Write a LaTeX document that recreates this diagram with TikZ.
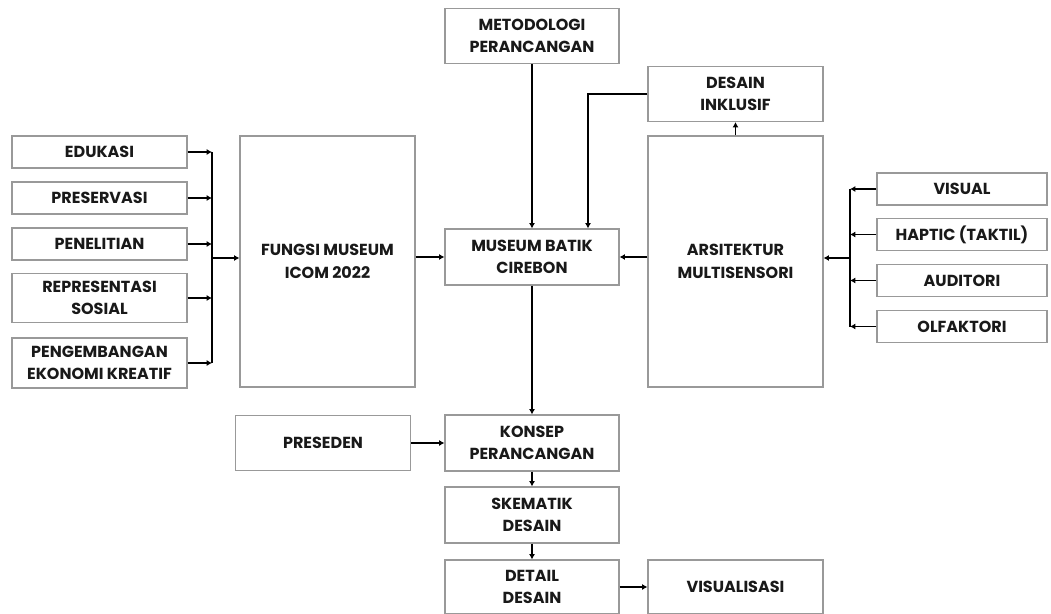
\documentclass[tikz,border=0pt]{standalone}
\usepackage{fontspec}
\setmainfont{Poppins}
\usetikzlibrary{arrows.meta}

\begin{document}
\begin{tikzpicture}[x=0.75pt,y=-0.75pt,-{Latex[length=4pt,width=4.5pt]},line width=1.1pt]
    \tikzstyle{every node}=[draw=black!40,line width=0.8pt,align=center,inner sep=0pt,
      font=\fontsize{12}{17}\selectfont\bfseries,text=black!90];
    \tikzset{ukuran/.style 2 args={minimum width=#1*0.75pt,minimum height=#2*0.75pt}}
    \useasboundingbox (0,0) rectangle (1051,614);

    % kiri
    \node at (99.5,152) (edukasi) [ukuran={175}{32}] {EDUKASI};
    \node at (99.5,198) (preservasi) [ukuran={175}{32}] {PRESERVASI};
    \node at (99.5,244) (penelitian) [ukuran={175}{32}] {PENELITIAN};
    \node at (99.5,298) (representasi) [ukuran={175}{49}] {REPRESENTASI\\SOSIAL};
    \node at (99.5,363) (pengembangan) [ukuran={175}{50}] {PENGEMBANGAN\\EKONOMI KREATIF};
    \node at (327.5,261.5) (fungsi) [ukuran={175}{251}] {FUNGSI MUSEUM\\ICOM 2022};

    % tengah
    \node at (532,36) (metodologi) [ukuran={174}{55}] {METODOLOGI\\PERANCANGAN};
    \node at (532,257) (museum) [ukuran={174}{56}] {MUSEUM BATIK\\CIREBON};
    \node at (323,443) (preseden) [ukuran={175}{55}] {PRESEDEN};
    \node at (532,443) (konsep) [ukuran={174}{56}] {KONSEP\\PERANCANGAN};
    \node at (532,515) (skematik) [ukuran={174}{56}] {SKEMATIK\\DESAIN};
    \node at (532,587) (detail) [ukuran={174}{54}] {DETAIL\\DESAIN};
    \node at (735.5,587) (visualisasi) [ukuran={175}{54}] {VISUALISASI};

    % kanan
    \node at (735.5,94) (desain) [ukuran={175}{55}] {DESAIN\\INKLUSIF};
    \node at (735.5,261.5) (arsitektur) [ukuran={175}{251}] {ARSITEKTUR\\MULTISENSORI};
    \node at (962,189) (visual) [ukuran={170}{32}] {VISUAL};
    \node at (962,234.5) (haptic) [ukuran={170}{32}] {HAPTIC (TAKTIL)};
    \node at (962,280.5) (auditori) [ukuran={170}{32}] {AUDITORI};
    \node at (962,326.5) (olfaktori) [ukuran={170}{32}] {OLFAKTORI};

    \coordinate (busL) at (212,258);
    \coordinate (busR) at (850,258);

    \foreach \n in {edukasi,preservasi,penelitian,representasi,pengembangan}
      \draw (\n.east) -- (\n -| busL);
    \draw[-] (edukasi -| busL) -- (pengembangan -| busL);
    \draw (busL) -- (busL -| fungsi.west);

    \foreach \n in {visual,haptic,auditori,olfaktori}
      \draw (\n.west) -- (\n -| busR);
    \draw[-] (visual -| busR) -- (olfaktori -| busR);
    \draw (busR) -- (busR -| arsitektur.east);

    \draw (museum -| fungsi.east) to (museum.west);
    \draw (museum -| arsitektur.west) to (museum.east);
    \draw (metodologi) to (museum);
    \draw (arsitektur) to (desain);
    \draw (desain.west) -| ([xshift=42pt]museum.north);
    \draw (museum) to (konsep);
    \draw (preseden) to (konsep);
    \draw (konsep) to (skematik);
    \draw (skematik) to (detail);
    \draw (detail) to (visualisasi);
\end{tikzpicture}
\end{document}
